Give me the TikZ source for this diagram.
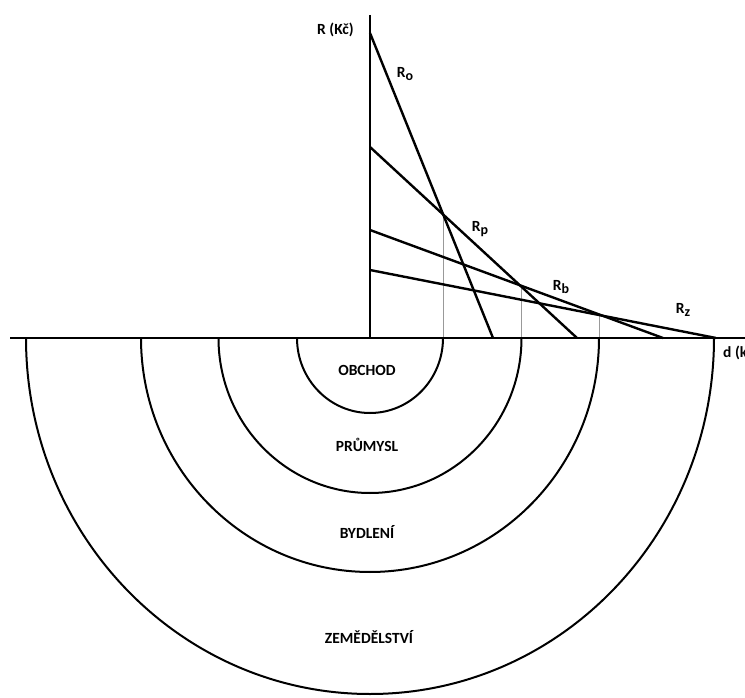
\documentclass[tikz,border=0pt]{standalone}
\usepackage{fontspec}
\setmainfont{Carlito}
\newcommand{\rsub}[1]{R\raisebox{-0.35ex}{\fontsize{14}{14}\selectfont #1}}
\begin{document}
\begin{tikzpicture}[x=1pt,y=-1pt,
  axis/.style={line width=2.4pt,black},
  rline/.style={line width=2.4pt,black},
  ring/.style={line width=2pt,black},
  guide/.style={line width=0.8pt,black!40},
  zone/.style={font=\fontsize{15.5}{18}\selectfont\bfseries,inner sep=0pt},
  lab/.style={font=\fontsize{15.5}{17}\selectfont\bfseries,inner sep=0pt}]
\useasboundingbox (0,0) rectangle (745,698);
% axes
\coordinate (O) at (370,338);
\coordinate (ytop) at (370,15);
\coordinate (xl) at (10,338);
\coordinate (xr) at (745,338);
% rings (half ellipses below axis)
\draw[ring] (26,338) arc[start angle=180,end angle=0,x radius=344,y radius=356];
\draw[ring] (141,338) arc[start angle=180,end angle=0,x radius=229,y radius=234];
\draw[ring] (218.5,338) arc[start angle=180,end angle=0,x radius=151.5,y radius=155];
\draw[ring] (297,338) arc[start angle=180,end angle=0,x radius=73,y radius=75];
% rent lines
\coordinate (o1) at (370,33);  \coordinate (o2) at (493,338);
\coordinate (p1) at (370,147); \coordinate (p2) at (577,338);
\coordinate (b1) at (370,230); \coordinate (b2) at (663,338);
\coordinate (z1) at (370,270); \coordinate (z2) at (716,338);
% guides
\coordinate (g1) at (443,213); \coordinate (g1b) at (443,338);
\coordinate (g2) at (521,285.5); \coordinate (g2b) at (521,338);
\coordinate (g3) at (599,314); \coordinate (g3b) at (599,338);
\draw[guide] (g1) -- (g1b);
\draw[guide] (g2) -- (g2b);
\draw[guide] (g3) -- (g3b);
\draw[rline] (o1) -- (o2);
\draw[rline] (p1) -- (p2);
\draw[rline] (b1) -- (b2);
\draw[rline] (z1) -- (z2);
\draw[axis] (xl) -- (xr);
\draw[axis] (ytop) -- (O);
% labels
\node[lab] (ylab) at (335.5,30) {R (Kč)};
\node[lab,anchor=west] (xlab) at (723,353) {d (km)};
\node[lab] (Ro) at (405,74) {\rsub{o}};
\node[lab] (Rp) at (480,229) {\rsub{p}};
\node[lab] (Rb) at (561,287) {\rsub{b}};
\node[lab] (Rz) at (683,310) {\rsub{z}};
\node[zone] (obchod) at (367,370) {OBCHOD};
\node[zone] (prumysl) at (367,445) {PRŮMYSL};
\node[zone] (bydleni) at (367,532) {BYDLENÍ};
\node[zone] (zemed) at (369,637) {ZEMĚDĚLSTVÍ};
\end{tikzpicture}
\end{document}
